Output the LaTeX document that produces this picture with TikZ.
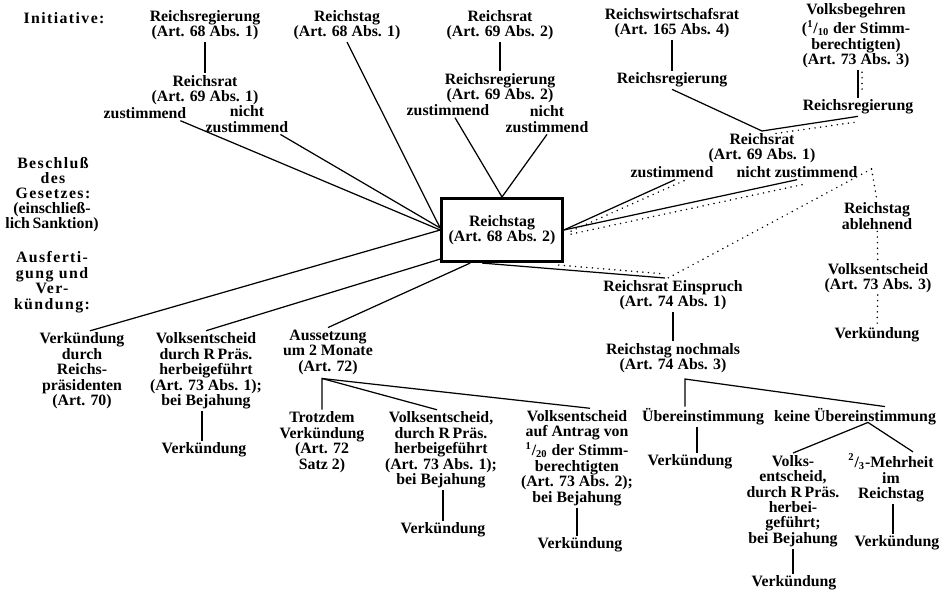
\documentclass[tikz,border=0pt]{standalone}
\usepackage{fontspec}
\setmainfont{Liberation Serif}
\newfontfamily\sperrfont[LetterSpace=9]{Liberation Serif}
\usepackage{tikz}
\usetikzlibrary{calc}
\tikzset{
  lbl/.style={align=center, inner sep=1pt, font=\bfseries\fontsize{9}{8.8}\selectfont},
  sperr/.style={lbl, font=\sperrfont\bfseries\fontsize{9}{8.8}\selectfont},
  mainbox/.style={lbl, draw, line width=1.5pt, minimum width=2.42cm, minimum height=1.27cm},
  link/.style={line width=0.7pt},
  dotl/.style={line width=0.95pt, line cap=round, dash pattern=on 0pt off 3.2pt}
}
\begin{document}
\begin{tikzpicture}[x=0.02cm,y=-0.02cm]
  \useasboundingbox (0,0) rectangle (950,600);
  \node[sperr] (init) at (64,18) {Initiative:};
  \node[lbl] (rrg1) at (205,25) {Reichsregierung\\(Art. 68 Abs. 1)};
  \node[lbl] (rt1) at (347,25) {Reichstag\\(Art. 68 Abs. 1)};
  \node[lbl] (rr2) at (500,25) {Reichsrat\\(Art. 69 Abs. 2)};
  \node[lbl] (rwr) at (672,23) {Reichswirtschafsrat\\(Art. 165 Abs. 4)};
  \node[lbl] (vb) at (856,36) {Volksbegehren\\(\textsuperscript{1}/\textsubscript{10} der Stimm-\\berechtigten)\\(Art. 73 Abs. 3)};
  \node[lbl] (rr1) at (205,90) {Reichsrat\\(Art. 69 Abs. 1)};
  \node[lbl] (z1) at (145,113) {zustimmend};
  \node[lbl] (nz1) at (247,119) {nicht\\zustimmend};
  \node[lbl] (rrg2) at (500,88) {Reichsregierung\\(Art. 69 Abs. 2)};
  \node[lbl] (z2) at (448,110) {zustimmend};
  \node[lbl] (nz2) at (547,119) {nicht\\zustimmend};
  \node[lbl] (rrg3) at (672,80) {Reichsregierung};
  \node[lbl] (rrg4) at (858,107) {Reichsregierung};
  \node[lbl] (rr3) at (762,148) {Reichsrat\\(Art. 69 Abs. 1)};
  \node[lbl] (z3) at (672,172) {zustimmend};
  \node[lbl] (nz3) at (797,172) {nicht zustimmend};
  \node[mainbox] (rtag) at (502,230) {Reichstag\\(Art. 68 Abs. 2)};
  \node[sperr] (besch) at (53,178) {Beschluß\\des\\Gesetzes:};
  \node[lbl] (sankt) at (52,217) {(einschließ-\\lich\,Sanktion)};
  \node[sperr] (ausf) at (52,282) {Ausferti-\\gung und\\Ver-\\kündung:};
  \node[lbl] (rab) at (877,216) {Reichstag\\ablehnend};
  \node[lbl] (ve3) at (878,278) {Volksentscheid\\(Art. 73 Abs. 3)};
  \node[lbl] (vk7) at (877,335) {Verkündung};
  \node[lbl] (ein) at (673,295) {Reichsrat Einspruch\\(Art. 74 Abs. 1)};
  \node[lbl] (rn) at (673,358) {Reichstag nochmals\\(Art. 74 Abs. 3)};
  \node[lbl] (ue) at (703,417) {Übereinstimmung};
  \node[lbl] (kue) at (855,417) {keine Übereinstimmung};
  \node[lbl] (vk5) at (690,462) {Verkündung};
  \node[lbl] (ve4) at (793,501) {Volks-\\entscheid,\\durch R\,Präs.\\herbei-\\geführt;\\bei Bejahung};
  \node[lbl] (mh) at (891,478) {\textsuperscript{2}/\textsubscript{3}-Mehrheit\\im\\Reichstag};
  \node[lbl] (vk6) at (794,583) {Verkündung};
  \node[lbl] (vk8) at (897,543) {Verkündung};
  \node[lbl] (vk1) at (82,371) {Verkündung\\durch\\Reichs-\\präsidenten\\(Art. 70)};
  \node[lbl] (ve1) at (206,371) {Volksentscheid\\durch R\,Präs.\\herbeigeführt\\(Art. 73 Abs. 1);\\bei Bejahung};
  \node[lbl] (vk2) at (204,450) {Verkündung};
  \node[lbl] (aus) at (328,352) {Aussetzung\\um 2 Monate\\(Art. 72)};
  \node[lbl] (td) at (322,442) {Trotzdem\\Verkündung\\(Art. 72\\Satz 2)};
  \node[lbl] (ve2) at (441,450) {Volksentscheid,\\durch R\,Präs.\\herbeigeführt\\(Art. 73 Abs. 1);\\bei Bejahung};
  \node[lbl] (vk3) at (443,530) {Verkündung};
  \node[lbl] (va) at (577,458) {Volksentscheid\\auf Antrag von\\\textsuperscript{1}/\textsubscript{20} der Stimm-\\berechtigten\\(Art. 73 Abs. 2);\\bei Bejahung};
  \node[lbl] (vk4) at (580,545) {Verkündung};
  \draw[link] (rrg1) -- (rr1);
  \draw[link] ($(z1.south east)+(-8,0)$) -- (rtag.west);
  \draw[link] ($(nz1.south east)+(-10,0)$) -- ($(rtag.west)+(0,-2)$);
  \draw[link] (rt1.south) -- ($(rtag.west)+(0,-2)$);
  \draw[link] (rr2) -- (rrg2);
  \draw[link] ($(z2.south)+(7,0)$) -- (rtag.north);
  \draw[link] (nz2.south) -- (rtag.north);
  \draw[link] (rwr) -- (rrg3);
  \draw[link] (vb.south -| rrg4) -- (rrg4.north);
  \draw[dotl] ($(vb.south -| rrg4)+(4,2)$) -- ($(rrg4.north)+(4,-6)$);
  \draw[link] (rrg3.south) -- (rr3.north);
  \draw[link] (rrg4.south) -- (rr3.north);
  \draw[dotl] ($(rrg4.south)+(-4,6)$) -- ($(rr3.north)+(10,3)$);
  \draw[link] ($(z3.south)+(3,0)$) -- (rtag.east);
  \draw[dotl] ($(z3.south)+(12,1)$) -- ($(rtag.east)+(3,3)$);
  \draw[link] (nz3.south) -- (rtag.east);
  \draw[dotl] ($(nz3.south)+(5,5)$) -- ($(rtag.east)+(3,5)$);
  \coordinate (dn) at ($(nz3.east)+(12,-3)$);
  \draw[dotl] (dn) -- (rab.north);
  \draw[dotl] (dn) -- ($(ein.north)+(-5,0)$);
  \draw[link] ($(rtag.south west)+(42,0)$) -- ($(ein.north)+(-8,0)$);
  \draw[dotl] ($(rtag.south east)+(-5,2)$) -- ($(ein.north)+(-8,-4)$);
  \draw[dotl] (rab) -- (ve3);
  \draw[dotl] (ve3) -- (vk7);
  \draw[link] (ein) -- (rn);
  \coordinate (ap1) at ($(rn.south)+(12,4)$);
  \draw[link] (ue.north -| ap1) -- (ap1) -- ($(kue.north)+(30,0)$);
  \draw[link] ($(ue.south)+(-6,0)$) -- ($(vk5.north)+(7,0)$);
  \coordinate (ap2) at ($(kue.south)+(13,-5)$);
  \draw[link] (ve4.north) -- (ap2) -- ($(mh.north)+(22,0)$);
  \draw[link] (ve4.south) -- (ve4.south |- vk6.north);
  \draw[link] ($(mh.south)+(2,0)$) -- ($(vk8.north)+(-4,0)$);
  \draw[link] ($(vk1.north)+(8,0)$) -- (rtag.west);
  \draw[link] (ve1.north) -- ($(rtag.south west)+(0,-4)$);
  \draw[link] ($(ve1.south)+(-4,0)$) -- ($(vk2.north)+(-2,0)$);
  \draw[link] (aus.north) -- ($(rtag.south west)+(30,0)$);
  \coordinate (ap3) at ($(aus.south)+(-6,2)$);
  \draw[link] (td.north -| ap3) -- (ap3) -- ($(ve2.north)+(-4,0)$);
  \draw[link] (ap3) -- ($(va.north)+(13,0)$);
  \draw[link] ($(ve2.south)+(2,0)$) -- (vk3.north);
  \draw[link] (va.south) -- ($(vk4.north)+(-3,0)$);
\end{tikzpicture}
\end{document}
